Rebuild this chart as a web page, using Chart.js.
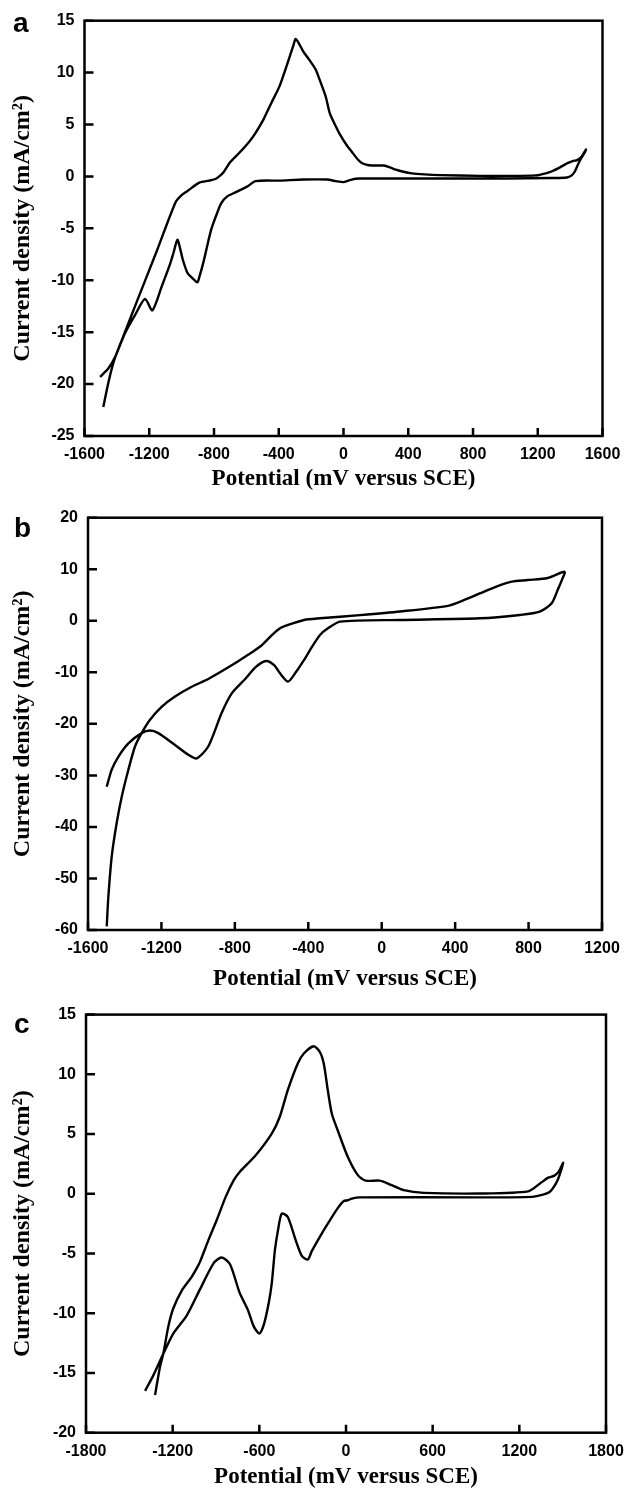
<!DOCTYPE html>
<html>
<head>
<meta charset="utf-8">
<script src="https://cdn.jsdelivr.net/npm/chart.js@4.4.1/dist/chart.umd.min.js"></script>
<style>
html, body { margin: 0; padding: 0; background: #fff; overflow: hidden; }
#wrap { position: relative; width: 624px; height: 1493px; }
canvas { position: absolute; left: 0; }
</style>
</head>
<body>
<div id="wrap">
  <canvas id="cvA" width="640" height="495" style="top:0px"></canvas>
  <canvas id="cvB" width="640" height="500" style="top:495px"></canvas>
  <canvas id="cvC" width="640" height="498" style="top:995px"></canvas>
</div>
<script>
// panel a: potential (mV vs SCE) and current density (mA/cm2), read along the sweep
const aPotential = [-1484, -1453, -1428, -1408, -1340, -1278, -1154, -1038, -1000, -964, -890, -830, -791, -760, -741, -704, -680, -642, -580, -543, -494, -445, -395, -346, -310, -296, -275, -247, -210, -172, -147, -110, -85, -50, -24, 20, 50, 90, 113, 150, 200, 249, 290, 323, 370, 422, 500, 595, 843, 1000, 1189, 1250, 1288, 1340, 1387, 1420, 1440, 1470, 1498,
  1490, 1470, 1450, 1430, 1410, 1380, 1288, 1000, 600, 200, 100, 50, 2, -48, -100, -247, -395, -543, -593, -668, -718, -755, -780, -817, -842, -866, -891, -903, -940, -964, -993, -1010, -1026, -1051, -1075, -1123, -1181, -1226, -1288, -1350, -1408, -1453, -1504];
const aCurrent = [-22.2, -19.9, -18.3, -17.3, -14.6, -12.1, -7.2, -2.5, -1.8, -1.4, -0.6, -0.4, -0.25, 0.1, 0.4, 1.3, 1.7, 2.3, 3.4, 4.2, 5.5, 7.1, 8.7, 10.9, 12.6, 13.25, 12.8, 12.0, 11.2, 10.3, 9.3, 7.7, 6.1, 4.9, 4.1, 3.0, 2.4, 1.6, 1.3, 1.1, 1.05, 1.05, 0.85, 0.65, 0.45, 0.3, 0.2, 0.13, 0.05, 0.05, 0.1, 0.3, 0.5, 0.9, 1.3, 1.5, 1.55, 1.9, 2.6,
  2.3, 1.8, 1.2, 0.5, 0.1, -0.1, -0.15, -0.2, -0.2, -0.2, -0.2, -0.3, -0.55, -0.45, -0.3, -0.3, -0.4, -0.45, -0.96, -1.54, -1.92, -2.56, -3.5, -5.1, -6.7, -8.3, -9.7, -10.2, -9.7, -9.3, -8.0, -6.9, -6.1, -7.4, -8.6, -10.6, -12.9, -11.8, -13.35, -15.1, -17.3, -18.5, -19.3];

// panel b
const bPotential = [-1498, -1489, -1471, -1444, -1416, -1380, -1344, -1308, -1262, -1199, -1126, -1035, -945, -815, -728, -662, -597, -554, -510, -423, -336, -118, 99, 360, 447, 534, 621, 708, 795, 904, 996,
  980, 959, 926, 861, 752, 534, 99, -227, -293, -336, -379, -423, -466, -510, -554, -586, -630, -684, -749, -817, -872, -945, -1008, -1053, -1126, -1217, -1262, -1308, -1380, -1435, -1471, -1498];
const bCurrent = [-59.3, -53.5, -45.8, -39.3, -34.1, -28.9, -24.4, -21.8, -19.2, -16.7, -14.7, -12.8, -11.3, -8.6, -6.6, -5.0, -2.75, -1.46, -0.8, 0.16, 0.48, 1.1, 1.8, 2.9, 4.0, 5.3, 6.6, 7.6, 7.9, 8.3, 9.5,
  7.8, 6.0, 3.4, 1.77, 1.13, 0.48, 0.16, -0.16, -1.46, -2.75, -5.0, -7.6, -9.9, -11.8, -10.2, -8.6, -7.8, -8.9, -11.5, -14.1, -17.9, -24.4, -26.7, -26.0, -24.1, -21.8, -21.3, -21.8, -23.8, -26.4, -28.9, -32.2];

// panel c
const cPotential = [-1322, -1288, -1265, -1230, -1196, -1137, -1068, -1034, -1011, -953, -895, -833, -777, -736, -625, -514, -459, -403, -334, -292, -223, -181, -154, -126, -98, -57, 12, 82, 137, 234, 317, 400, 539, 927, 1260, 1343, 1400, 1440, 1475, 1503,
  1490, 1467, 1440, 1410, 1370, 1287, 900, 96, 40, 12, -15, -57, -126, -181, -237, -264, -306, -348, -403, -445, -470, -492, -514, -536, -570, -600, -639, -680, -736, -803, -861, -916, -1011, -1103, -1196, -1265, -1334, -1391];
const cCurrent = [-16.85, -14.5, -13.4, -11.1, -9.6, -8.1, -6.95, -6.25, -5.7, -3.9, -2.2, -0.26, 1.14, 1.83, 3.23, 5.04, 6.43, 8.67, 10.9, 11.74, 12.35, 11.87, 10.9, 8.67, 6.7, 5.3, 3.1, 1.56, 1.1, 1.1, 0.72, 0.3, 0.08, 0.02, 0.2, 0.86, 1.35, 1.5, 1.9, 2.6,
  2.0, 1.2, 0.6, 0.15, -0.05, -0.26, -0.3, -0.3, -0.4, -0.54, -0.6, -1.2, -2.5, -3.6, -4.8, -5.5, -5.2, -3.9, -1.94, -1.66, -3.0, -4.7, -7.5, -9.2, -11.0, -11.7, -11.1, -9.7, -8.3, -5.9, -5.33, -5.8, -8.0, -10.2, -11.7, -13.4, -15.2, -16.5];

// tick labels
const aXTicks = [-1600, -1200, -800, -400, 0, 400, 800, 1200, 1600];
const aYTicks = [-25, -20, -15, -10, -5, 0, 5, 10, 15];
const bXTicks = [-1600, -1200, -800, -400, 0, 400, 800, 1200];
const bYTicks = [-60, -50, -40, -30, -20, -10, 0, 10, 20];
const cXTicks = [-1800, -1200, -600, 0, 600, 1200, 1800];
const cYTicks = [-20, -15, -10, -5, 0, 5, 10, 15];

const xTitle = 'Potential (mV versus SCE)';
const yTitle = 'Current density (mA/cm²)';

const tickFont = { family: '"Liberation Sans", Arial, sans-serif', weight: 'bold', size: 16 };
const xTitleFont = { family: '"Liberation Serif", "Times New Roman", serif', weight: 'bold', size: 23 };
const yTitleFont = { family: '"Liberation Serif", "Times New Roman", serif', weight: 'bold', size: 24 };

// box round the plot, inward ticks, panel letter
const frame = {
  id: 'frame',
  afterDatasetsDraw(chart, args, opts) {
    const { ctx, chartArea: a, scales: { x, y } } = chart;
    ctx.save();
    ctx.strokeStyle = '#000';
    ctx.lineWidth = 2.5;
    ctx.strokeRect(a.left, a.top, a.right - a.left, a.bottom - a.top);
    ctx.beginPath();
    x.ticks.forEach(t => {
      const px = x.getPixelForValue(t.value);
      ctx.moveTo(px, a.bottom);
      ctx.lineTo(px, a.bottom - 8);
    });
    y.ticks.forEach(t => {
      const py = y.getPixelForValue(t.value);
      ctx.moveTo(a.left, py);
      ctx.lineTo(a.left + 9, py);
    });
    ctx.stroke();
    ctx.fillStyle = '#000';
    ctx.font = 'bold 28px "Liberation Sans", Arial, sans-serif';
    ctx.textBaseline = 'alphabetic';
    ctx.fillText(opts.letter, opts.lx, opts.ly);
    ctx.restore();
  }
};

function drawPanel(id, letter, pot, cur, xTicks, yTicks, box) {
  const cv = document.getElementById(id);
  const W = cv.width, H = cv.height;
  return new Chart(cv, {
    type: 'scatter',
    data: {
      datasets: [{
        data: pot.map((p, i) => ({ x: p, y: cur[i] })),
        showLine: true,
        borderColor: '#000',
        borderWidth: 2.4,
        pointRadius: 0,
        tension: 0.25,
        fill: false
      }]
    },
    options: {
      responsive: false,
      animation: false,
      layout: { padding: { left: 0, top: box.top, right: W - box.right, bottom: 0 } },
      plugins: {
        legend: { display: false },
        tooltip: { enabled: false },
        frame: { letter: letter, lx: box.lx, ly: box.ly }
      },
      scales: {
        x: {
          type: 'linear',
          min: xTicks[0],
          max: xTicks[xTicks.length - 1],
          grid: { display: false, drawTicks: false },
          border: { display: false },
          afterBuildTicks: s => { s.ticks = xTicks.map(v => ({ value: v })); },
          afterFit: s => { s.height = H - box.bottom; },
          ticks: { color: '#000', font: tickFont, padding: 9, maxRotation: 0, autoSkip: false, callback: v => String(v) },
          title: { display: true, text: xTitle, color: '#000', font: xTitleFont, padding: { top: 0, bottom: 2 } }
        },
        y: {
          type: 'linear',
          min: yTicks[0],
          max: yTicks[yTicks.length - 1],
          grid: { display: false, drawTicks: false },
          border: { display: false },
          afterBuildTicks: s => { s.ticks = yTicks.map(v => ({ value: v })); },
          afterFit: s => { s.width = box.left; },
          ticks: { color: '#000', font: tickFont, padding: 10, autoSkip: false, callback: v => String(v) },
          title: { display: true, text: yTitle, color: '#000', font: yTitleFont, padding: { top: 8.6, bottom: 0 } }
        }
      }
    },
    plugins: [frame]
  });
}

drawPanel('cvA', 'a', aPotential, aCurrent, aXTicks, aYTicks, { left: 84.5, right: 602.5, top: 20.7, bottom: 436, lx: 13, ly: 32 });
drawPanel('cvB', 'b', bPotential, bCurrent, bXTicks, bYTicks, { left: 88, right: 602, top: 22.7, bottom: 435, lx: 14, ly: 42 });
drawPanel('cvC', 'c', cPotential, cCurrent, cXTicks, cYTicks, { left: 86, right: 606, top: 19.3, bottom: 437.7, lx: 14, ly: 38 });
</script>
</body>
</html>
